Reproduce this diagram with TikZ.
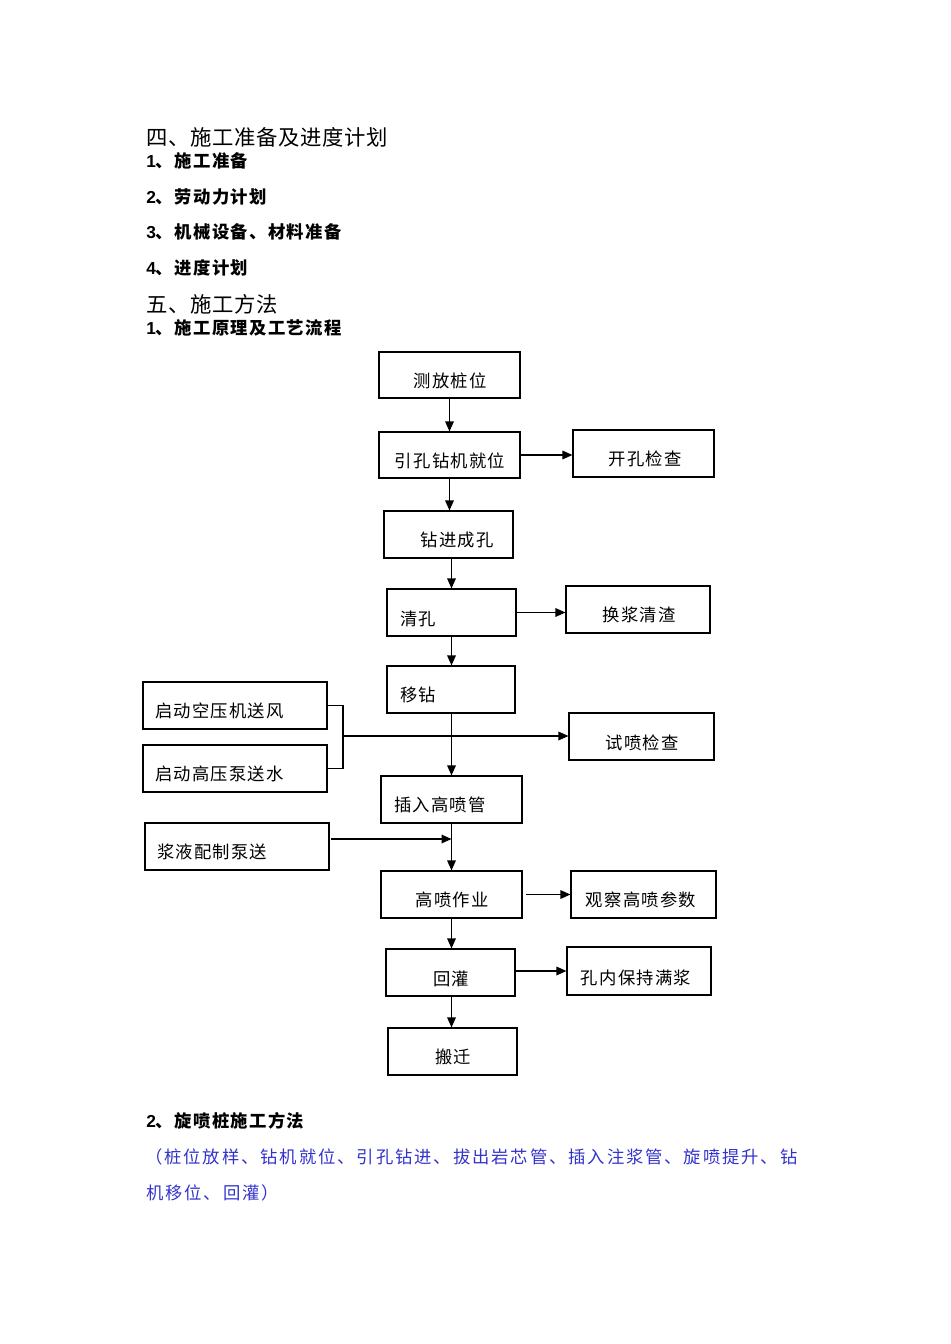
\documentclass[tikz,border=0pt]{standalone}
\usepackage{fontspec}
\usetikzlibrary{arrows.meta,calc}
\newfontfamily\cjk[LetterSpace=7]{Noto Sans CJK SC}
\newfontfamily\cjkh[LetterSpace=8]{Noto Sans CJK SC}
\newfontfamily\cjkt[LetterSpace=3]{Noto Sans CJK SC}
\newfontfamily\cjkblue[LetterSpace=11]{Noto Sans CJK SC}
\newfontfamily\arl{Liberation Sans}
\definecolor{bluetext}{RGB}{51,51,204}
\tikzset{
  box/.style={draw=black, line width=0.9pt, rectangle, inner sep=0pt},
  lbl/.style={inner sep=0pt, font=\cjk\fontsize{13pt}{15pt}\selectfont},
  hd/.style={inner sep=0pt, anchor=west, font=\fontsize{13pt}{15pt}\selectfont},
  ttl/.style={inner sep=0pt, anchor=west, font=\cjkt\fontsize{16pt}{18pt}\selectfont},
  bl/.style={inner sep=0pt, anchor=west, text=bluetext, font=\cjkblue\fontsize{13pt}{15pt}\selectfont},
  arr/.style={draw=black, line width=0.9pt, -{Triangle[length=7.5pt,width=6.5pt]}},
  ln/.style={draw=black, line width=0.9pt}
}
\newcommand{\hdtxt}[2]{{\arl\bfseries #1}{\cjkh\bfseries #2}}
\begin{document}
\begin{tikzpicture}[x=0.75pt,y=-0.75pt]
\useasboundingbox (0,0) rectangle (950,1344);
% headings
\node[ttl] (h0) at (146,137) {四、施工准备及进度计划};
\node[hd] (h1) at (146,161) {\hdtxt{1}{、施工准备}};
\node[hd] (h2) at (146,197) {\hdtxt{2}{、劳动力计划}};
\node[hd] (h3) at (146,232) {\hdtxt{3}{、机械设备、材料准备}};
\node[hd] (h4) at (146,268) {\hdtxt{4}{、进度计划}};
\node[ttl] (h5) at (146,304) {五、施工方法};
\node[hd] (h6) at (146,328) {\hdtxt{1}{、施工原理及工艺流程}};
\node[hd] (h7) at (146,1121) {\hdtxt{2}{、旋喷桩施工方法}};
\node[bl] (bl1) at (145,1157) {（桩位放样、钻机就位、引孔钻进、拔出岩芯管、插入注浆管、旋喷提升、钻};
\node[bl] (bl2) at (146,1193) {机移位、回灌）};
% boxes
\node[box, minimum width=141*0.75pt, minimum height=46*0.75pt] (b1) at (449.5,375) {};
\node[box, minimum width=141*0.75pt, minimum height=46*0.75pt] (b2) at (449.5,455) {};
\node[box, minimum width=141*0.75pt, minimum height=47*0.75pt] (b3) at (643.5,453.5) {};
\node[box, minimum width=129*0.75pt, minimum height=47*0.75pt] (b4) at (448.5,534.5) {};
\node[box, minimum width=129*0.75pt, minimum height=47*0.75pt] (b5) at (451.5,612.5) {};
\node[box, minimum width=144*0.75pt, minimum height=47*0.75pt] (b6) at (638,609.5) {};
\node[box, minimum width=128*0.75pt, minimum height=47*0.75pt] (b7) at (451,689.5) {};
\node[box, minimum width=184*0.75pt, minimum height=47*0.75pt] (s1) at (235,705.5) {};
\node[box, minimum width=184*0.75pt, minimum height=47*0.75pt] (s2) at (235,768.5) {};
\node[box, minimum width=145*0.75pt, minimum height=47*0.75pt] (b8) at (641.5,736.5) {};
\node[box, minimum width=141*0.75pt, minimum height=47*0.75pt] (b9) at (451.5,799.5) {};
\node[box, minimum width=184*0.75pt, minimum height=47*0.75pt] (p1) at (237,846.5) {};
\node[box, minimum width=141*0.75pt, minimum height=47*0.75pt] (b10) at (451.5,894.5) {};
\node[box, minimum width=145*0.75pt, minimum height=47*0.75pt] (b11) at (643.5,894.5) {};
\node[box, minimum width=129*0.75pt, minimum height=47*0.75pt] (b12) at (450.5,972.5) {};
\node[box, minimum width=144*0.75pt, minimum height=48*0.75pt] (b13) at (639,971) {};
\node[box, minimum width=129*0.75pt, minimum height=47*0.75pt] (b14) at (452.5,1051.5) {};
% labels
\node[lbl] (t1) at (450,381) {测放桩位};
\node[lbl] (t2) at (450,461) {引孔钻机就位};
\node[lbl] (t3) at (645,459) {开孔检查};
\node[lbl] (t4) at (457,540) {钻进成孔};
\node[lbl, anchor=west] (t5) at (400,619) {清孔};
\node[lbl] (t6) at (639,615) {换浆清渣};
\node[lbl, anchor=west] (t7) at (400,695) {移钻};
\node[lbl, anchor=west] (t8) at (155,711) {启动空压机送风};
\node[lbl, anchor=west] (t9) at (155,774) {启动高压泵送水};
\node[lbl] (t10) at (642,743) {试喷检查};
\node[lbl, anchor=west] (t11) at (394,805) {插入高喷管};
\node[lbl, anchor=west] (t12) at (157,852) {浆液配制泵送};
\node[lbl] (t13) at (452,900) {高喷作业};
\node[lbl] (t14) at (641,900) {观察高喷参数};
\node[lbl] (t15) at (451,979) {回灌};
\node[lbl] (t16) at (636,978) {孔内保持满浆};
\node[lbl] (t17) at (453,1057) {搬迁};
% connectors
\draw[arr] (b1.south) -- (b2.north);
\draw[arr] (b2.south) -- (b2.south |- b4.north);
\draw[arr] (b2.east) -- (b2.east -| b3.west);
\draw[arr] (b5.north |- b4.south) -- (b5.north);
\draw[arr] (b5.east) -- (b5.east -| b6.west);
\draw[arr] (b5.south) -- (b5.south |- b7.north);
\draw[arr] (b5.south |- b7.south) -- (b5.south |- b9.north);
\coordinate (j1) at (343,705.5);
\coordinate (j2) at (343,768.5);
\coordinate (j) at (343,736);
\draw[ln] (s1.east) -- (j1) -- (j2) -- (s2.east);
\draw[arr] (j) -- (j -| b8.west);
\coordinate (pa) at (331,839);
\draw[arr] (pa) -- (pa -| b9.south);
\draw[arr] (b9.south) -- (b10.north);
\coordinate (qa) at (526,894.5);
\draw[arr] (qa) -- (qa -| b11.west);
\draw[arr] (b10.south) -- (b10.south |- b12.north);
\coordinate (ra) at (515,971);
\draw[arr] (ra) -- (ra -| b13.west);
\draw[arr] (b10.south |- b12.south) -- (b10.south |- b14.north);
\end{tikzpicture}
\end{document}
